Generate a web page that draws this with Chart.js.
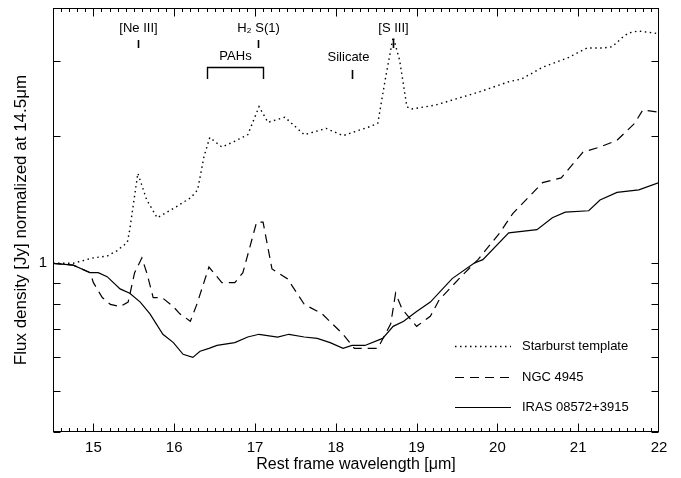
<!DOCTYPE html>
<html><head><meta charset="utf-8">
<script src="https://cdn.jsdelivr.net/npm/chart.js@4.4.1/dist/chart.umd.min.js"></script>
<style>html,body{margin:0;padding:0;background:#fff}</style>
</head><body>
<canvas id="c" width="681" height="478"></canvas>
<script>
// ---------- data ----------
const seriesNames = ['Starburst template', 'NGC 4945', 'IRAS 08572+3915'];

const starburstWave = [14.50,14.75,15.00,15.17,15.29,15.42,15.45,15.55,15.66,15.79,16.00,16.21,16.29,16.37,16.44,16.59,16.75,16.91,17.05,17.16,17.37,17.61,17.88,18.09,18.42,18.52,18.61,18.71,18.79,18.88,18.93,19.23,19.76,20.14,20.30,20.56,20.87,21.11,21.31,21.42,21.54,21.62,21.74,21.95,22.00];
const starburstFlux = [1.00,1.00,1.03,1.04,1.07,1.12,1.20,1.63,1.41,1.28,1.35,1.43,1.49,1.79,1.98,1.88,1.94,2.01,2.34,2.15,2.21,2.01,2.08,2.00,2.10,2.14,2.70,3.42,3.01,2.34,2.31,2.36,2.53,2.68,2.72,2.90,3.05,3.22,3.22,3.24,3.40,3.49,3.53,3.49,3.47];

const ngcWave = [14.50,14.75,14.96,15.00,15.11,15.21,15.33,15.43,15.51,15.60,15.66,15.74,15.85,15.99,16.07,16.20,16.28,16.43,16.59,16.75,16.85,17.02,17.10,17.21,17.40,17.61,17.83,18.09,18.23,18.36,18.52,18.68,18.74,18.82,19.00,19.17,19.28,19.55,19.76,20.03,20.19,20.56,20.79,21.06,21.27,21.48,21.70,21.80,22.00];
const ngcFlux = [1.00,0.99,0.95,0.90,0.83,0.80,0.79,0.81,0.95,1.03,0.95,0.83,0.83,0.79,0.76,0.73,0.80,0.98,0.90,0.90,0.95,1.25,1.25,0.97,0.92,0.80,0.76,0.68,0.63,0.63,0.63,0.72,0.85,0.78,0.71,0.75,0.82,0.93,1.02,1.18,1.31,1.55,1.59,1.83,1.88,1.95,2.14,2.30,2.27];

const irasWave = [14.50,14.75,14.96,15.06,15.17,15.33,15.45,15.58,15.70,15.86,15.99,16.11,16.23,16.32,16.43,16.53,16.75,16.91,17.05,17.28,17.42,17.61,17.77,17.93,18.09,18.20,18.36,18.58,18.71,18.84,19.00,19.17,19.44,19.71,19.82,20.14,20.49,20.68,20.84,21.13,21.27,21.48,21.75,22.00];
const irasFlux = [1.00,0.99,0.95,0.95,0.93,0.87,0.85,0.81,0.76,0.68,0.65,0.61,0.60,0.62,0.63,0.64,0.65,0.67,0.68,0.67,0.68,0.67,0.665,0.65,0.63,0.64,0.64,0.665,0.71,0.73,0.77,0.81,0.92,1.00,1.02,1.18,1.20,1.28,1.32,1.33,1.41,1.47,1.49,1.55];

const xTickValues = [15,16,17,18,19,20,21,22];
const xMinorStep = 0.1;
const yTickValues = [0.4,0.5,0.6,0.7,0.8,0.9,1,2,3,4];
const yLabeledTicks = [1];

const lineLabels = ['[Ne III]', 'H\u2082 S(1)', '[S III]'];
const lineWaves = [15.555, 17.035, 18.713];
const silicateLabel = 'Silicate';
const silicateWave = 18.2;
const pahLabel = 'PAHs';
const pahRange = [16.41, 17.10];

// ---------- chart ----------
const FONT = "'Liberation Sans', Arial, Helvetica, sans-serif";
const toPts = (w, f) => w.map((x, i) => ({x: x, y: f[i]}));

const framePlugin = {
  id: 'frame',
  afterDraw(chart) {
    const ctx = chart.ctx;
    const {left, right, top, bottom} = chart.chartArea;
    const xs = chart.scales.x, ys = chart.scales.y;
    ctx.save();
    ctx.strokeStyle = '#000';
    ctx.fillStyle = '#000';
    ctx.lineWidth = 1;
    ctx.setLineDash([]);
    const L = Math.round(left) + 0.5, R = Math.round(right) - 0.5;
    const T = Math.round(top) + 0.5, B = Math.round(bottom) - 0.5;
    ctx.strokeRect(L, T, R - L, B - T);
    ctx.beginPath();
    const n = Math.round((xs.max - xs.min) / xMinorStep);
    for (let i = 1; i < n; i++) {
      const v = xs.min + i * xMinorStep;
      const px = Math.round(xs.getPixelForValue(v)) + 0.5;
      const major = Math.abs(v - Math.round(v)) < 1e-6;
      const len = major ? 8 : 3.5;
      ctx.moveTo(px, B); ctx.lineTo(px, B - len);
      ctx.moveTo(px, T); ctx.lineTo(px, T + len);
    }
    yTickValues.forEach(v => {
      const py = Math.round(ys.getPixelForValue(v)) + 0.5;
      ctx.moveTo(L, py); ctx.lineTo(L + 7, py);
      ctx.moveTo(R, py); ctx.lineTo(R - 7, py);
    });
    ctx.stroke();

    // spectral feature annotations
    ctx.font = '13px ' + FONT;
    ctx.textAlign = 'center';
    ctx.textBaseline = 'middle';
    ctx.lineWidth = 1.6;
    ctx.beginPath();
    lineLabels.forEach((t, i) => {
      const px = Math.round(xs.getPixelForValue(lineWaves[i])) + 0.5;
      ctx.fillText(t, px, top + 20);
      ctx.moveTo(px, top + 32); ctx.lineTo(px, top + 40);
    });
    const sx = Math.round(xs.getPixelForValue(silicateWave)) + 0.5;
    ctx.fillText(silicateLabel, sx - 4, top + 49);
    ctx.moveTo(sx, top + 62); ctx.lineTo(sx, top + 71);
    ctx.stroke();
    const p0 = Math.round(xs.getPixelForValue(pahRange[0])) + 0.5;
    const p1 = Math.round(xs.getPixelForValue(pahRange[1])) + 0.5;
    ctx.fillText(pahLabel, (p0 + p1) / 2, top + 48);
    ctx.lineWidth = 1.4;
    ctx.beginPath();
    ctx.moveTo(p0, top + 71); ctx.lineTo(p0, top + 59.5); ctx.lineTo(p1, top + 59.5); ctx.lineTo(p1, top + 71);
    ctx.stroke();

    // legend
    ctx.textAlign = 'left';
    chart.data.datasets.forEach((ds, i) => {
      const y = Math.round(bottom - 86 + i * 30.5) + 0.5;
      ctx.setLineDash(ds.borderDash || []);
      ctx.lineWidth = ds.borderWidth;
      ctx.beginPath();
      ctx.moveTo(right - 204, y); ctx.lineTo(right - 148, y);
      ctx.stroke();
      ctx.setLineDash([]);
      ctx.fillText(ds.label, right - 137, y);
    });
    ctx.restore();
  }
};

new Chart(document.getElementById('c'), {
  type: 'line',
  data: {
    datasets: [
      {label: seriesNames[0], data: toPts(starburstWave, starburstFlux), borderColor: '#000', borderWidth: 1.4, borderDash: [1.5, 3.5], pointRadius: 0, tension: 0, fill: false},
      {label: seriesNames[1], data: toPts(ngcWave, ngcFlux), borderColor: '#000', borderWidth: 1.2, borderDash: [9, 6], pointRadius: 0, tension: 0, fill: false},
      {label: seriesNames[2], data: toPts(irasWave, irasFlux), borderColor: '#000', borderWidth: 1.2, borderDash: [], pointRadius: 0, tension: 0, fill: false}
    ]
  },
  options: {
    responsive: false,
    animation: false,
    devicePixelRatio: 1,
    layout: {padding: {left: 0, right: 22, top: 8, bottom: 0}},
    plugins: {legend: {display: false}, tooltip: {enabled: false}},
    scales: {
      x: {
        type: 'linear', min: 14.5, max: 22,
        afterBuildTicks: s => { s.ticks = xTickValues.map(v => ({value: v})); },
        afterFit: s => { s.height = 46; s.paddingLeft = 0; s.paddingRight = 0; },
        grid: {display: false, drawTicks: false},
        border: {display: false},
        ticks: {color: '#000', font: {family: FONT, size: 15}, padding: 7, maxRotation: 0, autoSkip: false, callback: v => String(v)},
        title: {display: true, text: 'Rest frame wavelength [\u03bcm]', color: '#000', font: {family: FONT, size: 16}, padding: {top: 0, bottom: 4}}
      },
      y: {
        type: 'logarithmic', min: 0.4, max: 4,
        afterBuildTicks: s => { s.ticks = yTickValues.map(v => ({value: v})); },
        afterFit: s => { s.width = 53; s.paddingTop = 0; s.paddingBottom = 0; },
        grid: {display: false, drawTicks: false},
        border: {display: false},
        ticks: {color: '#000', font: {family: FONT, size: 15}, padding: 6, autoSkip: false, callback: v => yLabeledTicks.includes(v) ? String(v) : ''},
        title: {display: true, text: 'Flux density [Jy] normalized at 14.5\u03bcm', color: '#000', font: {family: FONT, size: 17}, padding: {top: 11, bottom: 0}}
      }
    }
  },
  plugins: [framePlugin]
});
</script>
</body></html>
